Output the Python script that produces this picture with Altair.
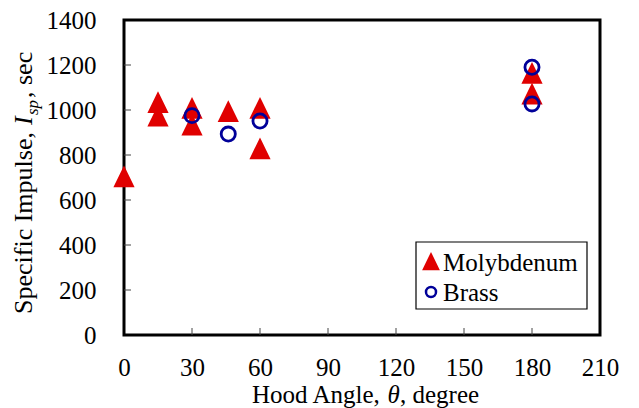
import altair as alt
import pandas as pd

# ---- data ----
series_names = ["Molybdenum", "Brass"]
mo_theta = [0, 15, 15, 30, 30, 46, 60, 60, 180, 180]
mo_isp = [700, 1030, 970, 1005, 930, 990, 1005, 825, 1160, 1068]
br_theta = [30, 46, 60, 180, 180]
br_isp = [975, 893, 951, 1190, 1027]
x_tick_values = [0, 30, 60, 90, 120, 150, 180, 210]
y_tick_values = [0, 200, 400, 600, 800, 1000, 1200, 1400]
x_inner_ticks = [30, 60, 90, 120, 150, 180]
y_inner_ticks = [200, 400, 600, 800, 1000, 1200]
x_title_parts = ["Hood Angle, ", "\u03b8", ", degree"]
y_title_parts = ["Specific Impulse, ", "I", "sp", ", sec"]

RED = "#E00000"
BLUE = "#000099"
TRI = "M0,-1.05L1,1L-1,1Z"
FONT = "Liberation Serif"

df = pd.DataFrame({
    "theta": mo_theta + br_theta,
    "isp": mo_isp + br_isp,
    "material": [series_names[0]] * len(mo_theta) + [series_names[1]] * len(br_theta),
})

W, H = 476, 315

xscale = alt.Scale(domain=[0, 210], nice=False, zero=False)
yscale = alt.Scale(domain=[0, 1400], nice=False, zero=False)
xaxis = alt.Axis(values=x_tick_values, title=None, ticks=False, domain=False, grid=False,
                 format="d", labelFont=FONT, labelFontSize=25, labelColor="black",
                 labelPadding=20, labelFlush=False, labelOverlap=False)
yaxis = alt.Axis(values=y_tick_values, title=None, ticks=False, domain=False, grid=False,
                 format="d", labelFont=FONT, labelFontSize=25, labelColor="black",
                 labelPadding=28, labelOverlap=False)

shape_scale = alt.Scale(domain=series_names, range=[TRI, "circle"])
fill_scale = alt.Scale(domain=series_names, range=[RED, "transparent"])
stroke_scale = alt.Scale(domain=series_names, range=[RED, BLUE])

xt_df = pd.DataFrame({"theta": x_inner_ticks})
yt_df = pd.DataFrame({"isp": y_inner_ticks})

xticks = alt.Chart(xt_df).mark_rule(color="#444", strokeWidth=1).encode(
    x=alt.X("theta:Q", scale=xscale, axis=xaxis),
    y=alt.value(H - 7), y2=alt.value(H),
)
yticks = alt.Chart(yt_df).mark_rule(color="#444", strokeWidth=1).encode(
    y=alt.Y("isp:Q", scale=yscale, axis=yaxis),
    x=alt.value(0), x2=alt.value(7),
)

points = alt.Chart(df).mark_point(opacity=1, strokeWidth=2.8).encode(
    x=alt.X("theta:Q", scale=xscale, axis=xaxis),
    y=alt.Y("isp:Q", scale=yscale, axis=yaxis),
    shape=alt.Shape("material:N", scale=shape_scale, legend=None),
    fill=alt.Fill("material:N", scale=fill_scale, legend=None),
    stroke=alt.Stroke("material:N", scale=stroke_scale, legend=None),
    size=alt.Size("material:N", scale=alt.Scale(domain=series_names, range=[280, 200]), legend=None),
)


def label(text, x, y, size, italic=False, angle=0, baseline="alphabetic"):
    kw = dict(font=FONT, fontSize=size, color="black", align="left", baseline=baseline)
    if italic:
        kw["fontStyle"] = "italic"
    if angle:
        kw["angle"] = angle
    return alt.Chart(pd.DataFrame({"t": [text]})).mark_text(**kw).encode(
        text="t:N", x=alt.value(x), y=alt.value(y)
    )


# x-axis title (composed so theta can be italic)
xt = [
    label(x_title_parts[0], 128, 383, 25),
    label(x_title_parts[1], 263.5, 383, 25, italic=True),
    label(x_title_parts[2], 276, 383, 25),
]
# y-axis title (composed so I_sp can be italic with subscript)
yt = [
    label(y_title_parts[0], -92, 294, 26, angle=270),
    label(y_title_parts[1], -92, 105, 26, italic=True, angle=270),
    label(y_title_parts[2], -86, 95, 17, italic=True, angle=270),
    label(y_title_parts[3], -92, 78, 26, angle=270),
]

# legend box (inside the plot, lower right)
legend_box = alt.Chart(pd.DataFrame({"k": [0]})).mark_rect(
    fill="white", stroke="black", strokeWidth=1.2
).encode(x=alt.value(292), x2=alt.value(463), y=alt.value(222), y2=alt.value(289))


def legend_entry(i, ypos, size):
    sym = alt.Chart(pd.DataFrame({"material": [series_names[i]]})).mark_point(
        opacity=1, strokeWidth=2.5, size=size
    ).encode(
        x=alt.value(307), y=alt.value(ypos),
        shape=alt.Shape("material:N", scale=shape_scale, legend=None),
        fill=alt.Fill("material:N", scale=fill_scale, legend=None),
        stroke=alt.Stroke("material:N", scale=stroke_scale, legend=None),
    )
    txt = label(series_names[i], 319, ypos + 1, 25, baseline="middle")
    return [sym, txt]


leg = [legend_box] + legend_entry(0, 242, 190) + legend_entry(1, 272, 100)

chart = alt.layer(xticks, yticks, points, *xt, *yt, *leg).properties(
    width=W, height=H,
    autosize=alt.AutoSizeParams(type="none"),
    padding={"left": 124, "top": 20, "right": 39, "bottom": 73},
    background="white",
).configure_view(stroke="black", strokeWidth=3)

chart.save("out.html", embed_options={"renderer": "svg", "actions": False})
